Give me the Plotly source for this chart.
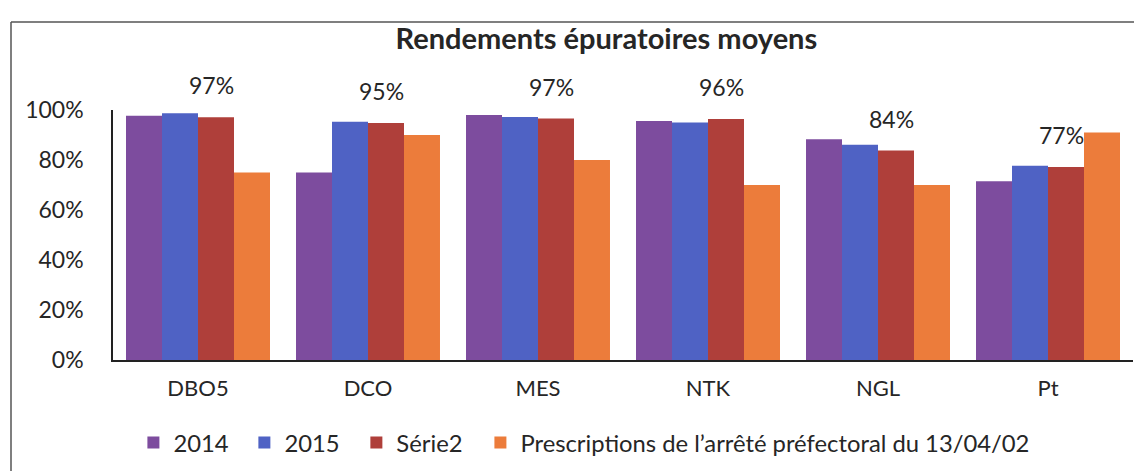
import plotly.graph_objects as go

categories = ["DBO5", "DCO", "MES", "NTK", "NGL", "Pt"]
series_names = ["2014", "2015", "Série2", "Prescriptions de l’arrêté préfectoral du 13/04/02"]
values_2014 = [0.977, 0.75, 0.98, 0.956, 0.883, 0.715]
values_2015 = [0.987, 0.953, 0.972, 0.95, 0.861, 0.777]
values_serie2 = [0.971, 0.948, 0.966, 0.964, 0.838, 0.772]
values_prescriptions = [0.75, 0.90, 0.80, 0.70, 0.70, 0.91]
y_ticks = [0, 0.2, 0.4, 0.6, 0.8, 1.0]

COLORS = ["#7D4C9E", "#4F62C4", "#AF3F3A", "#EC7C3B"]
FONT = "Lato, 'Open Sans', sans-serif"
TEXT_COLOR = "#262626"

# one legend per series so the entries can be spaced like the original
LEGEND_IDS = ["legend", "legend2", "legend3", "legend4"]
LEGEND_X = [0.02, 0.1288, 0.2386, 0.3602]

fig = go.Figure()
for name, vals, color, leg in zip(series_names,
                                  [values_2014, values_2015, values_serie2, values_prescriptions],
                                  COLORS, LEGEND_IDS):
    fig.add_trace(go.Bar(
        x=categories,
        y=vals,
        name=name,
        legend=leg,
        marker=dict(color=color, line=dict(width=0)),
    ))

# value labels only on the third series, raised above the bar tops
for cat, v in zip(categories, values_serie2):
    fig.add_annotation(
        x=cat, y=v, text=f"{v:.0%}",
        showarrow=False, xshift=13, yshift=32,
        font=dict(family=FONT, size=23, color=TEXT_COLOR),
    )

# frame of the original chart area (only top and left edges visible)
frame = dict(color="#555555", width=1.5)
fig.add_shape(type="line", xref="paper", yref="paper",
              x0=-0.1, x1=1.02, y0=1.352, y1=1.352, line=frame)
fig.add_shape(type="line", xref="paper", yref="paper",
              x0=-0.1, x1=-0.1, y0=1.352, y1=-0.48, line=frame)

legend_style = dict(
    orientation="h",
    xanchor="left",
    y=-0.33, yanchor="middle",
    font=dict(family=FONT, size=23.8, color=TEXT_COLOR),
    itemclick=False,
    bgcolor="rgba(0,0,0,0)",
)

fig.update_layout(
    width=1142,
    height=471,
    margin=dict(l=105, r=17, t=102, b=119),
    barmode="group",
    bargap=0.153,
    bargroupgap=0,
    plot_bgcolor="white",
    paper_bgcolor="white",
    font=dict(family=FONT, size=22, color=TEXT_COLOR),
    title=dict(
        text="<b>Rendements épuratoires moyens</b>",
        x=0.524, xanchor="center",
        y=0.934, yanchor="middle",
        font=dict(family=FONT, size=29, color=TEXT_COLOR),
    ),
    showlegend=True,
    **{leg: dict(x=lx, **legend_style) for leg, lx in zip(LEGEND_IDS, LEGEND_X)},
)

fig.update_yaxes(
    range=[0, 1.0],
    tickvals=y_ticks,
    tickformat=".0%",
    tickfont=dict(size=23),
    showgrid=False,
    zeroline=False,
    showline=True,
    linecolor="#222222",
    linewidth=1.5,
    ticks="",
    ticklabelstandoff=23,
)
fig.update_xaxes(
    tickfont=dict(size=22),
    showgrid=False,
    showline=True,
    linecolor="#222222",
    linewidth=1.5,
    ticks="",
    ticklabelstandoff=8,
)

fig.write_html("out.html")
